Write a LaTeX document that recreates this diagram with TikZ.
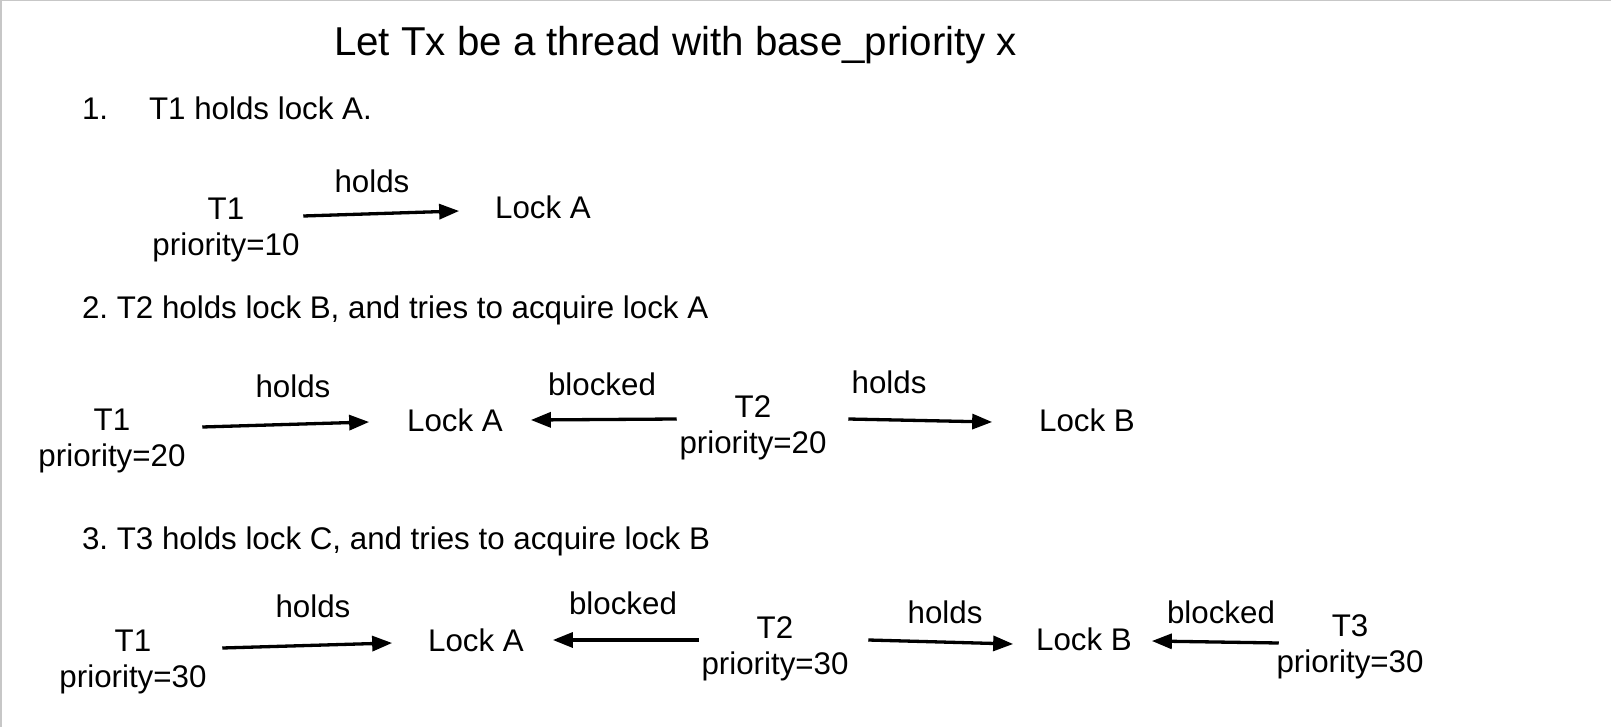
\documentclass[tikz,border=0pt]{standalone}
\usepackage{fontspec}
\setmainfont{Liberation Sans}
\frenchspacing
\usetikzlibrary{arrows.meta}
\tikzstyle{txt} = [inner sep=0,outer sep=0,anchor=base,font=\fontsize{31.3}{36}\selectfont]
\tikzstyle{heading} = [txt,anchor=base west]
\tikzstyle{caption} = [txt,anchor=base west,font=\fontsize{40.3}{46}\selectfont]
\tikzstyle{rel} = [line width=3.3pt,-{Triangle[length=20pt,width=15pt]}]
\tikzstyle{pageframe} = [draw=black!22,line width=1.5pt]
\def \gap {36pt}

\begin{document}
\begin{tikzpicture}[x=1pt,y=1pt]
      \useasboundingbox (0,0) rectangle (1611,-727);
      \draw[pageframe] (0.75,-727) -- (0.75,-0.75) -- (1611,-0.75);
      \node[caption] (title) at (334,-56) {Let Tx be a thread with base\_priority x};
      % 1.
      \node[heading] (h1) at (82,-120) {1.\hspace{41pt}T1 holds lock A.};
      \node[txt] (t1a) at (226,-219.5) {T1};
      \node[txt] (p1a) at ([yshift=-\gap]t1a.base) {priority=10};
      \node[txt] (la1) at (543,-218.5) {Lock A};
      \node[txt] (ha1) at (372,-193) {holds};
      \draw[rel] ([xshift=59pt,yshift=3.5pt]t1a.base east) -- ([xshift=-36pt,yshift=7.5pt]la1.base west);
      % 2.
      \node[heading] (h2) at (82,-318) {2. T2 holds lock B, and tries to acquire lock A};
      \node[txt] (t1b) at (112,-430) {T1};
      \node[txt] (p1b) at ([yshift=-\gap]t1b.base) {priority=20};
      \node[txt] (la2) at (455,-431.5) {Lock A};
      \node[txt] (t2b) at (753,-417.5) {T2};
      \node[txt] (p2b) at ([yshift=-\gap]t2b.base) {priority=20};
      \node[txt] (lb2) at (1087,-431.5) {Lock B};
      \node[txt] (hb1) at (293,-397) {holds};
      \node[txt] (bb1) at (602,-395) {blocked};
      \node[txt] (hb2) at (889,-393.5) {holds};
      \draw[rel] ([xshift=72pt,yshift=3pt]t1b.base east) -- ([xshift=-38pt,yshift=9.5pt]la2.base west);
      \draw[rel] ([xshift=-58pt,yshift=-1.5pt]t2b.base west) -- ([xshift=28pt,yshift=11.5pt]la2.base east);
      \draw[rel] ([xshift=77pt,yshift=-1.5pt]t2b.base east) -- ([xshift=-47pt,yshift=9.5pt]lb2.base west);
      % 3.
      \node[heading] (h3) at (82,-549) {3. T3 holds lock C, and tries to acquire lock B};
      \node[txt] (t1c) at (133,-651) {T1};
      \node[txt] (p1c) at ([yshift=-\gap]t1c.base) {priority=30};
      \node[txt] (la3) at (476,-651) {Lock A};
      \node[txt] (t2c) at (775,-638) {T2};
      \node[txt] (p2c) at ([yshift=-\gap]t2c.base) {priority=30};
      \node[txt] (lb3) at (1084,-650) {Lock B};
      \node[txt] (t3c) at (1350,-636) {T3};
      \node[txt] (p3c) at ([yshift=-\gap]t3c.base) {priority=30};
      \node[txt] (hc1) at (313,-617) {holds};
      \node[txt] (bc1) at (623,-614.5) {blocked};
      \node[txt] (hc2) at (945,-623.5) {holds};
      \node[txt] (bc2) at (1221,-623.5) {blocked};
      \draw[rel] ([xshift=71pt,yshift=3pt]t1c.base east) -- ([xshift=-36pt,yshift=8pt]la3.base west);
      \draw[rel] ([xshift=-58pt,yshift=-2pt]t2c.base west) -- ([xshift=29pt,yshift=11pt]la3.base east);
      \draw[rel] ([xshift=75pt,yshift=-2pt]t2c.base east) -- ([xshift=-23pt,yshift=6pt]lb3.base west);
      \draw[rel] ([xshift=-53pt,yshift=-7pt]t3c.base west) -- ([xshift=20pt,yshift=9pt]lb3.base east);
    \end{tikzpicture}
\end{document}
